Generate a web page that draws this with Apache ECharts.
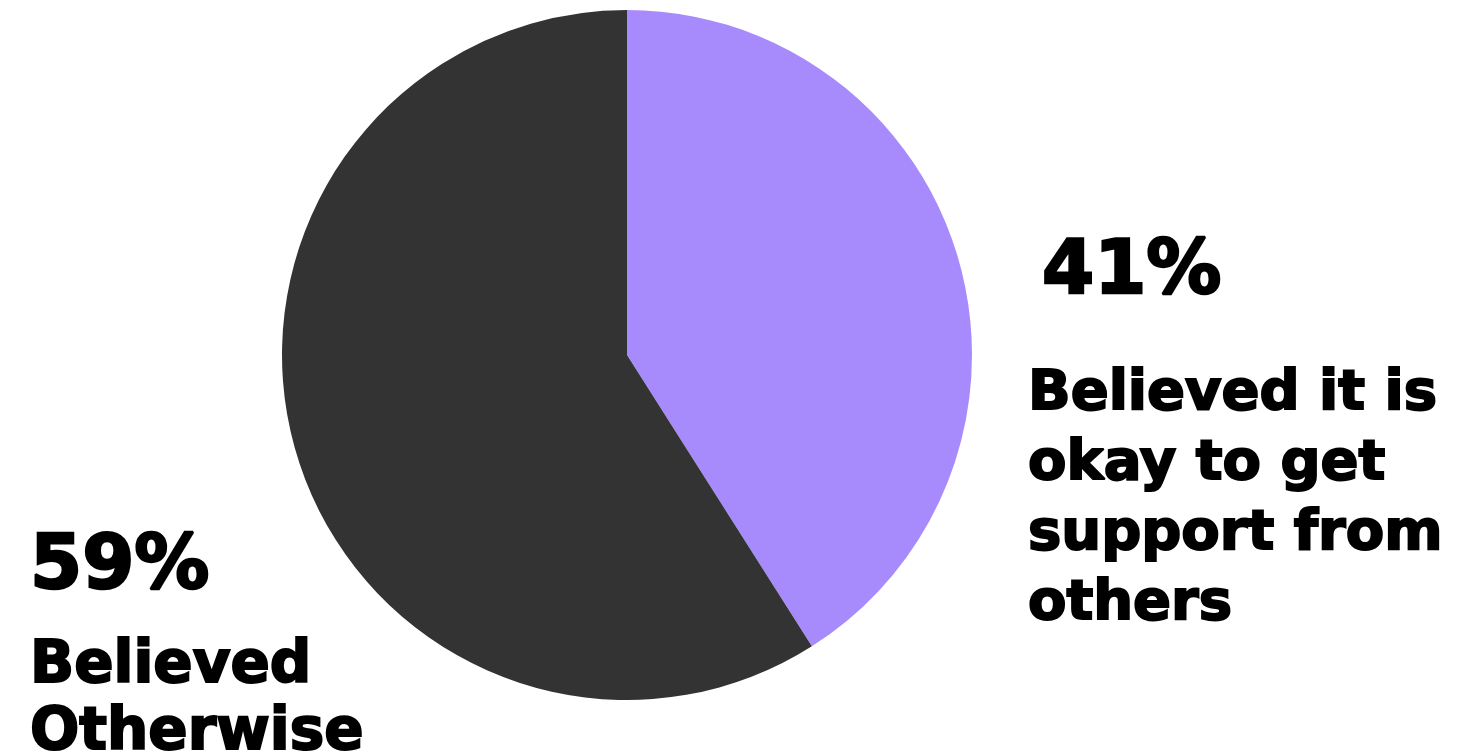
<!DOCTYPE html>
<html>
<head>
<meta charset="utf-8">
<style>
  html, body { margin: 0; padding: 0; background: #ffffff; }
  #chart { width: 1480px; height: 756px; }
</style>
<script src="https://cdn.jsdelivr.net/npm/echarts@6/dist/echarts.min.js"></script>
</head>
<body>
<div id="chart"></div>
<script>
// Survey split: share of respondents by belief
const categories = ['Believed it is okay to get support from others', 'Believed Otherwise'];
const values = [41, 59];
const colors = ['#a78bfc', '#333333'];
// Wrapped label text for each slice
const labelLines = [
  ['Believed it is', 'okay to get', 'support from', 'others'],
  ['Believed', 'Otherwise']
];

const FONT = '"DejaVu Sans", sans-serif';
const chart = echarts.init(document.getElementById('chart'), null, { renderer: 'canvas' });

const pct = v => v + '%';
// Heavy black lettering: bold face thickened with a matching outline
const heavy = (text, size, extra) => Object.assign({
  text: text, font: 'bold ' + size + 'px ' + FONT, fill: '#000',
  stroke: '#000', lineWidth: 2, textAlign: 'left', textVerticalAlign: 'middle'
}, extra || {});

chart.setOption({
  backgroundColor: '#ffffff',
  animation: false,
  series: [{
    type: 'pie',
    center: [627, 355],
    radius: [0, 345],
    startAngle: 90,
    clockwise: true,
    label: { show: false },
    labelLine: { show: false },
    emphasis: { disabled: true },
    itemStyle: { borderWidth: 0 },
    data: categories.map((name, i) => ({
      name: name,
      value: values[i],
      itemStyle: { color: colors[i] }
    }))
  }],
  graphic: [
    { type: 'text', x: 1042, y: 274, style: heavy(pct(values[0]), 75, { lineWidth: 2.5 }) },
    { type: 'text', x: 1028, y: 499, style: heavy(labelLines[0].join('\n'), 56, { lineHeight: 70 }) },
    { type: 'text', x: 30, y: 569, style: heavy(pct(values[1]), 75, { lineWidth: 2.5 }) },
    { type: 'text', x: 30, y: 700, style: heavy(labelLines[1].join('\n'), 58, { lineHeight: 67 }) }
  ]
});
</script>
</body>
</html>
